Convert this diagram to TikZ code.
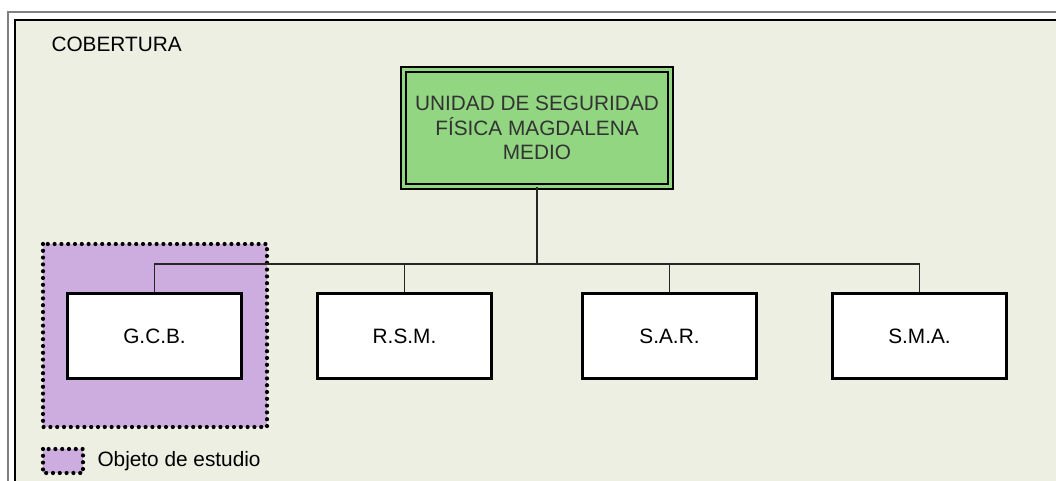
\documentclass[tikz,border=0pt]{standalone}
\usepackage{fontspec}
\setmainfont{Liberation Sans}
\begin{document}
\definecolor{bgc}{RGB}{238,239,227}
\definecolor{boxgreen}{RGB}{146,214,130}
\definecolor{studyviolet}{RGB}{205,172,224}
\definecolor{topText}{RGB}{51,51,51}
\definecolor{frameGray}{RGB}{128,128,128}
\tikzset{
  txt/.style={font=\fontsize{20.8}{24.5}\selectfont, text=black},
  childbox/.style={draw=black, line width=3pt, fill=white, minimum width=174.5pt, minimum height=85.5pt, inner sep=0pt, txt},
  topbox/.style={draw=black, line width=1.8pt, double=boxgreen, double distance=3.2pt, fill=boxgreen, minimum width=267pt, minimum height=117pt, inner sep=0pt, align=center, txt, text=topText},
  dotline/.style={draw=black, line width=4.2pt, line cap=round, dash pattern=on 0pt off 6.8pt},
  conn/.style={draw=black!85, line width=1.5pt},
}
\begin{tikzpicture}[x=1pt,y=-1pt]
\useasboundingbox (0,0) rectangle (1056,481);
\clip (0,0) rectangle (1056,481);
\fill[white] (0,0) rectangle (1056,481);
\draw[frameGray, line width=1.5pt] (8,12) rectangle (1080,520);
\draw[black, line width=2pt, fill=bgc] (15,20) rectangle (1080,520);
\node[txt, anchor=west] (cob) at (48,44) {COBERTURA};
% study region
\path[fill=studyviolet, dotline] (43,244) rectangle (267,427);
% nodes
\node[topbox] (top) at (537,128) {UNIDAD DE SEGURIDAD\\FÍSICA MAGDALENA\\MEDIO};
\node[childbox] (gcb) at (154.5,336) {G.C.B.};
\node[childbox] (rsm) at (404.5,336) {R.S.M.};
\node[childbox] (sar) at (669.5,336) {S.A.R.};
\node[childbox] (sma) at (919.5,336) {S.M.A.};
\coordinate (j) at (537,264);
% connectors
\draw[black!85, line width=2.4pt] (top.south) -- (j);
\draw[conn] (gcb.north) |- (j);
\draw[conn] (rsm.north) |- (j);
\draw[conn] (sar.north) |- (j);
\draw[conn] (sma.north) |- (j);
% legend
\path[fill=studyviolet, dotline] (43,449) rectangle (83,473);
\node[txt, anchor=west] (leg) at (94,461) {Objeto de estudio};
\end{tikzpicture}
\end{document}
